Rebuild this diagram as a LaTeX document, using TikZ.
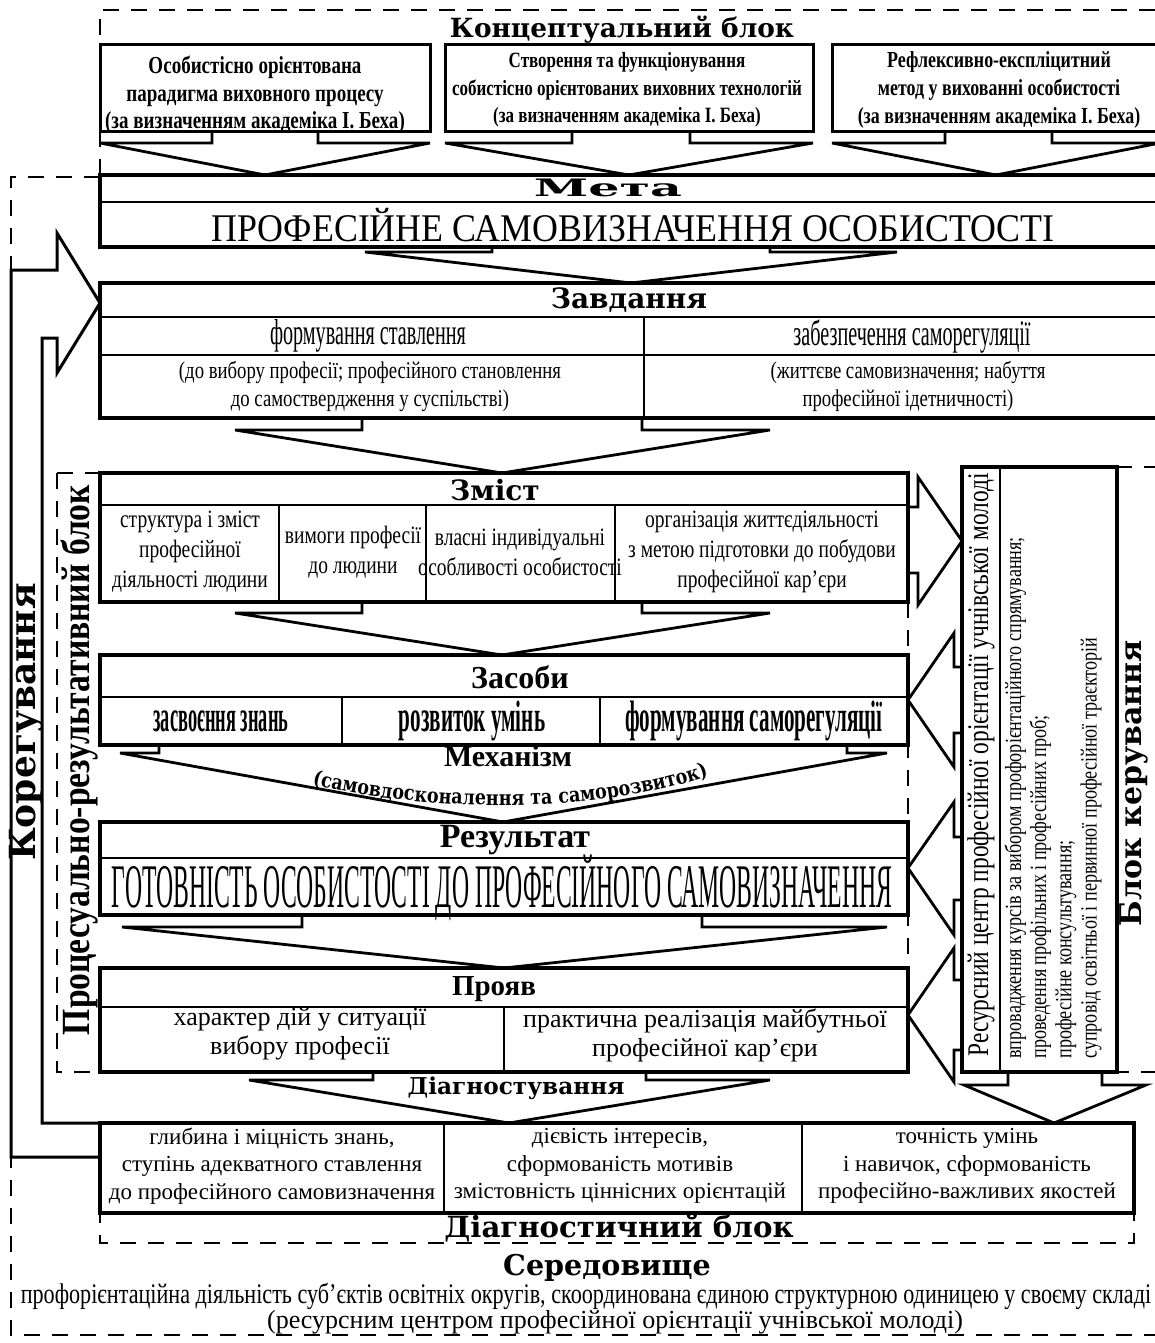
\documentclass[tikz,border=0pt]{standalone}
\usepackage{fontspec}
\usepackage{graphicx}
\setmainfont{Liberation Serif}
\newfontfamily\condfont[FakeStretch=0.78]{Liberation Serif}
\newfontfamily\narrowfont[FakeStretch=0.56]{Liberation Serif}
\newfontfamily\thinfont[FakeStretch=0.48]{Liberation Serif}
\newfontfamily\headfont{DejaVu Serif}
\newfontfamily\headcond[FakeStretch=0.85]{DejaVu Serif}
\usetikzlibrary{positioning,decorations.text}

\begin{document}
\begin{tikzpicture}[x=0.5pt, y=-0.5pt,
        box/.style = {draw, line width=2pt, inner sep=0pt, outer sep=0pt, anchor=north west},
        conc/.style = {box, line width=1.5pt},
        sep/.style = {line width=0.8pt},
        barrow/.style = {line width=1.4pt, line join=miter},
        band/.style = {line width=1.5pt},
        region/.style = {line width=1.3pt, dash pattern=on 8pt off 6pt},
        head/.style = {inner sep=0pt, font=\headfont\bfseries\fontsize{#1}{#1}\selectfont},
        tb/.style = {inner sep=0pt, font=\rmfamily\bfseries\fontsize{#1}{#1}\selectfont},
        txt/.style = {inner sep=0pt, align=center}
        ]
        \path[use as bounding box, fill=white] (0,0) rectangle (1155,1343);

        % dashed blocks
        \draw[region] (100,175) -- (100,10) -- (1170,10);
        \draw[region] (100,177) -- (11,177) -- (11,1335) -- (1170,1335);
        \draw[region] (57,473) rectangle (908,1072);
        \draw[region] (962,467) rectangle (1170,1072);
        \draw[region] (100,1123) rectangle (1134,1243);

        % boxes
        \node[conc, minimum width=165pt, minimum height=43.5pt] (concA) at (100,45) {};
        \node[conc, minimum width=184pt, minimum height=43.5pt] (concB) at (445,45) {};
        \node[conc, minimum width=164pt, minimum height=43.5pt] (concC) at (832,45) {};
        \node[box, minimum width=530pt, minimum height=36pt] (meta) at (100,175) {};
        \node[box, minimum width=530pt, minimum height=67.5pt] (zavd) at (100,283) {};
        \node[box, minimum width=404pt, minimum height=64.5pt] (zmist) at (100,473) {};
        \node[box, minimum width=404pt, minimum height=45pt] (zasoby) at (100,655) {};
        \node[box, minimum width=404pt, minimum height=46.5pt] (rezult) at (100,822) {};
        \node[box, minimum width=404pt, minimum height=52pt] (proyav) at (100,968) {};
        \node[box, minimum width=517pt, minimum height=45pt] (diagn) at (100,1123) {};
        \node[box, minimum width=77.5pt, minimum height=302.5pt] (resurs) at (962,467) {};

        % cell lines
        \draw[sep] (100,202) -- (1160,202);
        \draw[sep] (100,317) -- (1160,317);
        \draw[sep] (100,355) -- (1160,355);
        \draw[sep] (644,317) -- (644,418);
        \draw[sep] (100,505) -- (908,505);
        \foreach \x in {279,426,615} \draw[sep] (\x,505) -- (\x,602);
        \draw[sep] (100,697) -- (908,697);
        \foreach \x in {342,600} \draw[sep] (\x,697) -- (\x,745);
        \draw[sep] (100,858) -- (908,858);
        \draw[sep] (100,1007) -- (908,1007);
        \draw[sep] (504,1007) -- (504,1072);
        \foreach \x in {444,802} \draw[sep] (\x,1123) -- (\x,1213);
        \draw[sep] (1000,467) -- (1000,1072);

        % feedback
        \draw[band] (diagn.west |- 0,1157) -- (11,1157) -- (11,270) -- (57,270) -- (57,233)
            -- (zavd.west |- 0,303) -- (57,373) -- (57,338) -- (42,338) -- (42,1123) -- (diagn.north west);

        % block arrows down
        \foreach \src/\dst/\hL/\sL/\sR/\hR/\tX/\dd in {
            concA/meta/100/212/318/430/265/11,
            concB/meta/445/572/690/813/629/11,
            concC/meta/832/945/1052/1160/996/11,
            meta/zavd/365/492/770/897/631/5,
            zavd/zmist/235/362/642/770/502/12,
            zmist/zasoby/235/362/642/770/502/11,
            zasoby/rezult/120/159/847/887/503/8,
            rezult/proyav/122/302/702/887/504/12,
            proyav/diagn/249/373/646/770/509/8,
            resurs/diagn/964/1008/1102/1146/1054/13}
        {
            \path (\sL,0 |- \src.south) ++(0,\dd) coordinate (bk);
            \draw[barrow] (\sL,0 |- \src.south) -- (\sL,0 |- bk) -- (\hL,0 |- bk) -- (\tX,0 |- \dst.north)
                -- (\hR,0 |- bk) -- (\sR,0 |- bk) -- (\sR,0 |- \src.south);
        }

        % block arrows sideways
        \path (zmist.east) ++(10,0) coordinate (bk);
        \draw[barrow] (zmist.east |- 0,507) -- (bk |- 0,507) -- (bk |- 0,477) -- (resurs.west |- 0,541)
            -- (bk |- 0,605) -- (bk |- 0,573) -- (zmist.east |- 0,573);
        \foreach \dst/\hL/\sL/\sR/\hR/\tY in {zasoby/633/667/733/767/700, rezult/802/837/900/935/868, proyav/948/980/1050/1082/1015}
        {
            \path (resurs.west) ++(-8,0) coordinate (bk);
            \draw[barrow] (resurs.west |- 0,\sL) -- (bk |- 0,\sL) -- (bk |- 0,\hL) -- (\dst.east |- 0,\tY)
                -- (bk |- 0,\hR) -- (bk |- 0,\sR) -- (resurs.west |- 0,\sR);
        }

        % conceptual block
        \node[head=13.2] (tConc) at (622,30) {Концептуальний блок};
        \node[txt, font=\condfont\bfseries\fontsize{12.2}{13.8}\selectfont] (tConcA) at (255,95)
            {Особистісно орієнтована\\парадигма виховного процесу\\(за визначенням академіка І. Беха)};
        \node[txt, font=\condfont\bfseries\fontsize{10.9}{13.8}\selectfont] (tConcB) at (627,90)
            {Створення та функціонування\\собистісно орієнтованих виховних технологій\\(за визначенням академіка І. Беха)};
        \node[txt, font=\condfont\bfseries\fontsize{11.5}{13.8}\selectfont] (tConcC) at (999,90)
            {Рефлексивно-експліцитний\\метод у вихованні особистості\\(за визначенням академіка І. Беха)};

        % goal
        \node[head=12] (tMeta) at (608,188) {\scalebox{2.05}[1]{Мета}};
        \node[txt, font=\rmfamily\fontsize{19.6}{20}\selectfont] (tMetaM) at (633,225)
            {\scalebox{0.915}[1]{ПРОФЕСІЙНЕ САМОВИЗНАЧЕННЯ ОСОБИСТОСТІ}};

        % tasks
        \node[head=14] (tZavd) at (629,300) {Завдання};
        \node[txt, font=\narrowfont\fontsize{18}{18}\selectfont] (tZavdA) at (368,336) {формування ставлення};
        \node[txt, font=\narrowfont\fontsize{18}{18}\selectfont] (tZavdB) at (912,336) {забезпечення саморегуляції};
        \node[txt, font=\condfont\fontsize{12}{14}\selectfont] (tZavdC) at (370,386)
            {(до вибору професії; професійного становлення\\до самоствердження у суспільстві)};
        \node[txt, font=\condfont\fontsize{12}{14}\selectfont] (tZavdD) at (908,386)
            {(життєве самовизначення; набуття\\професійної ідетничності)};

        % content
        \node[head=14] (tZmist) at (495,490) {Зміст};
        \node[txt, font=\condfont\fontsize{12.5}{15}\selectfont] (tZmistA) at (190,552)
            {структура і зміст\\професійної\\діяльності людини};
        \node[txt, font=\condfont\fontsize{12.5}{15}\selectfont] (tZmistB) at (353,552)
            {вимоги професії\\до людини};
        \node[txt, font=\condfont\fontsize{12.5}{15}\selectfont] (tZmistC) at (520,552)
            {власні індивідуальні\\особливості особистості};
        \node[txt, font=\condfont\fontsize{12.5}{15}\selectfont] (tZmistD) at (762,552)
            {організація життєдіяльності\\з метою підготовки до побудови\\професійної кар’єри};

        % means
        \node[tb=16] (tZasoby) at (520,677) {Засоби};
        \node[txt, font=\thinfont\bfseries\fontsize{22}{22}\selectfont] (tZasA) at (221,721) {\scalebox{0.87}[1]{засвоєння знань}};
        \node[txt, font=\thinfont\bfseries\fontsize{22}{22}\selectfont] (tZasB) at (472,721) {розвиток умінь};
        \node[txt, font=\thinfont\bfseries\fontsize{22}{22}\selectfont] (tZasC) at (754,721) {формування саморегуляції};

        % mechanism
        \node[tb=15] (tMech) at (508,756) {Механізм};
        \path[decorate, decoration={text along path, text align=center,
            text={|\headcond\bfseries\fontsize{10.3}{12}\selectfont|(самовдосконалення та саморозвиток)}}]
            (296,780) .. controls (420,815) and (613,815) .. (724,770);

        % result
        \node[tb=17] (tRez) at (515,840) {Результат};
        \node[txt, font=\thinfont\fontsize{31}{31}\selectfont] (tRezM) at (502,888)
            {\scalebox{0.795}[1]{ГОТОВНІСТЬ ОСОБИСТОСТІ ДО ПРОФЕСІЙНОГО САМОВИЗНАЧЕННЯ}};

        % manifestation
        \node[tb=14.5] (tProyav) at (494,989) {Прояв};
        \node[txt, font=\rmfamily\fontsize{13}{14.5}\selectfont] (tProyavA) at (300,1034)
            {характер дій у ситуації\\вибору професії};
        \node[txt, font=\rmfamily\fontsize{13}{14.5}\selectfont] (tProyavB) at (705,1035)
            {практична реалізація майбутньої\\професійної кар'єри};

        % diagnostics
        \node[head=11.6] (tDiag) at (516,1088) {Діагностування};
        \node[txt, font=\rmfamily\fontsize{11.5}{13.75}\selectfont] (tDiagA) at (272,1166)
            {глибина і міцність знань,\\ступінь адекватного ставлення\\до професійного самовизначення};
        \node[txt, font=\rmfamily\fontsize{11.5}{13.75}\selectfont] (tDiagB) at (620,1166)
            {дієвість інтересів,\\сформованість мотивів\\змістовність ціннісних орієнтацій};
        \node[txt, font=\rmfamily\fontsize{11.5}{13.75}\selectfont] (tDiagC) at (967,1166)
            {точність умінь\\і навичок, сформованість\\професійно-важливих якостей};
        \node[head=14.6] (tDiagBlock) at (619,1228) {Діагностичний блок};

        % environment
        \node[head=14.3] (tSered) at (607,1268) {Середовище};
        \node[txt, font=\condfont\fontsize{14.2}{14}\selectfont] (tSeredA) at (586,1296)
            {профорієнтаційна діяльність суб’єктів освітніх округів, скоординована єдиною структурною одиницею у своєму складі};
        \node[txt, font=\rmfamily\fontsize{13}{13}\selectfont] (tSeredB) at (615,1322)
            {(ресурсним центром професійної орієнтації учнівської молоді)};

        % side labels
        \node[head=18, rotate=90] (tKoreg) at (26,722) {Корегування};
        \node[tb=20, rotate=90] (tProc) at (79,760) {\scalebox{0.84}[1]{Процесуально-результативний блок}};
        \node[head=15, rotate=90] (tKer) at (1134,783) {Блок керування};

        % resource centre
        \node[txt, rotate=90, font=\condfont\fontsize{15}{15}\selectfont] (tResA) at (981,765)
            {Ресурсний центр професійної орієнтації учнівської молоді};
        \node[txt, align=left, rotate=90, anchor=north west, font=\condfont\fontsize{11.6}{12.6}\selectfont] (tResB) at (1004,1059)
            {впровадження курсів за вибором профорієнтаційного спрямування;\\
             проведення профільних і професійних проб;\\
             професійне консультування;\\
             супровід освітньої і первинної професійної траєкторій};
    \end{tikzpicture}
\end{document}
